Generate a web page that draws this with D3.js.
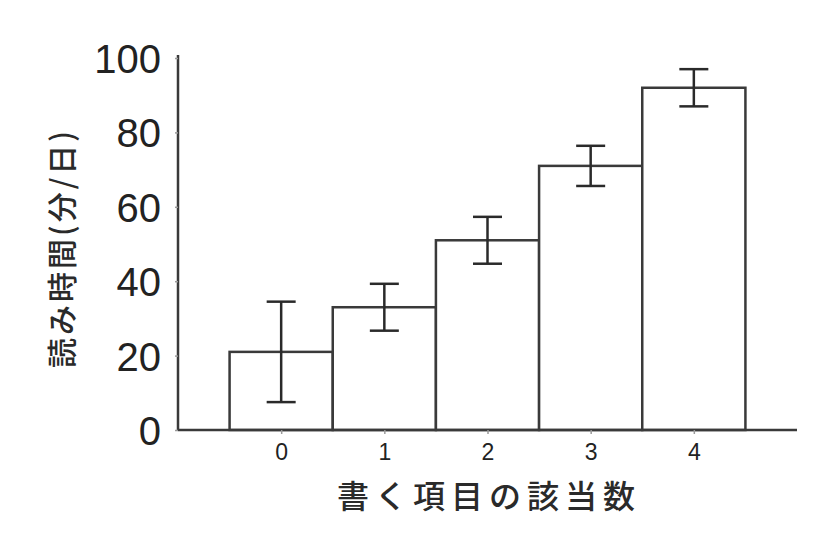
<!DOCTYPE html>
<html><head><meta charset="utf-8">
<script src="https://cdn.jsdelivr.net/npm/d3@7"></script>
<style>body{margin:0;background:#fff}</style>
</head><body>
<script>
const categories = [0, 1, 2, 3, 4];
const means = [21, 33, 51, 71, 92];
const errors = [13.5, 6.3, 6.3, 5.4, 5];
const yTicks = [0, 20, 40, 60, 80, 100];
const xLabel = "書く項目の該当数";
const yLabel = "読み時間(分/日)";

const W = 840, H = 559;
const svg = d3.select("body").append("svg").attr("width", W).attr("height", H);
const x = d3.scaleLinear().domain([-1, 5]).range([178, 797]);
const y = d3.scaleLinear().domain([0, 100]).range([430, 58]);
const col = "#3a3a3a";

// bars
svg.selectAll("rect.bar").data(categories).enter().append("rect")
  .attr("x", d => x(d - 0.5)).attr("width", x(0.5) - x(-0.5))
  .attr("y", (d, i) => y(means[i])).attr("height", (d, i) => y(0) - y(means[i]))
  .attr("fill", "#fff").attr("stroke", col).attr("stroke-width", 2.5);

// error bars
const cap = 14.5;
const eg = svg.append("g").attr("stroke", "#2a2a2a").attr("stroke-width", 2.5);
categories.forEach((d, i) => {
  const cx = x(d);
  eg.append("line").attr("x1", cx).attr("x2", cx).attr("y1", y(means[i] + errors[i])).attr("y2", y(means[i] - errors[i]));
  eg.append("line").attr("x1", cx - cap).attr("x2", cx + cap).attr("y1", y(means[i] + errors[i])).attr("y2", y(means[i] + errors[i]));
  eg.append("line").attr("x1", cx - cap).attr("x2", cx + cap).attr("y1", y(means[i] - errors[i])).attr("y2", y(means[i] - errors[i]));
});

// axes
const yAxis = svg.append("g").attr("transform", "translate(178,0)")
  .call(d3.axisLeft(y).tickValues(yTicks).tickSize(3).tickPadding(14));
yAxis.select(".domain").attr("stroke", col).attr("stroke-width", 2.5).attr("d", `M0,${y(100)-3}V${y(0)}`);
yAxis.selectAll(".tick line").attr("stroke", "#999").attr("stroke-width", 1.5);
yAxis.selectAll("text").attr("font-family", "Liberation Sans, Arial, sans-serif").attr("font-size", 40).attr("fill", "#222").attr("dy", "0.36em");

const xAxis = svg.append("g").attr("transform", `translate(0,${y(0)})`)
  .call(d3.axisBottom(x).tickValues(categories).tickFormat(d3.format("d")).tickSize(4).tickPadding(10));
xAxis.select(".domain").attr("stroke", col).attr("stroke-width", 2.5).attr("d", `M${x(-1)},0H${x(5)}`);
xAxis.selectAll(".tick line").attr("stroke", "#999").attr("stroke-width", 1.5);
xAxis.selectAll("text").attr("font-family", "Liberation Sans, Arial, sans-serif").attr("font-size", 23).attr("fill", "#222");

// labels
svg.append("text").attr("x", 489).attr("y", 508).attr("text-anchor", "middle")
  .attr("font-family", "Noto Sans CJK JP").attr("font-weight", 500).attr("font-size", 32).attr("letter-spacing", 6).attr("fill", "#2a2a2a")
  .text(xLabel);
svg.append("text").attr("transform", "translate(73,248) rotate(-90)").attr("text-anchor", "middle")
  .attr("font-family", "Noto Sans CJK JP").attr("font-weight", 500).attr("font-size", 30).attr("letter-spacing", 3).attr("fill", "#2a2a2a")
  .text(yLabel);
</script>
</body></html>
